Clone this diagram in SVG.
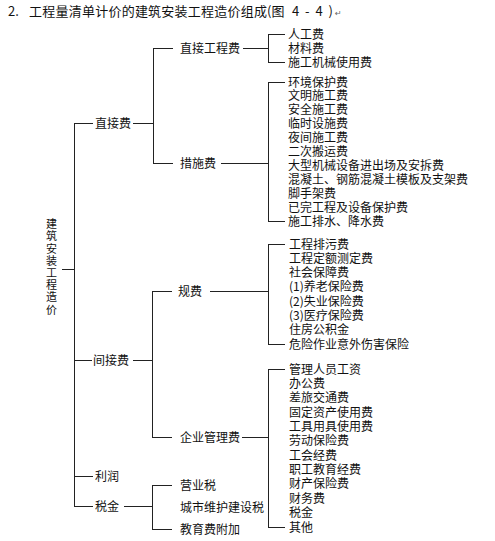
<svg xmlns="http://www.w3.org/2000/svg" width="495" height="541" viewBox="0 0 495 541">
<style>
text{font-family:"Noto Sans CJK SC","Noto Sans",sans-serif;fill:#111;font-size:12px}
.t{font-size:13px}
.r{font-size:11px}
.c path{fill:none;stroke:#222;stroke-width:1;shape-rendering:crispEdges}
</style>
<rect width="495" height="541" fill="#fff"/>
<g id="title">
<text class="t" x="8" y="16">2.</text>
<text class="t" x="29" y="16" textLength="238" lengthAdjust="spacing">工程量清单计价的建筑安装工程造价组成</text>
<text class="t" x="267" y="16">(图</text>
<text class="t" x="292" y="16" textLength="41" lengthAdjust="spacing">4-4)</text>
<text x="335" y="16" style="font-family:'DejaVu Sans',sans-serif;font-size:8px;fill:#666">↵</text>
</g>
<g class="c" id="connectors">
<path d="M62 269.5H74.5"/>
<path d="M93 123.5H74.5V506.5H93"/>
<path d="M74.5 360.5H92"/>
<path d="M74.5 476.5H93"/>
<path d="M133 123.5H153.5"/>
<path d="M173 48.5H153.5V163.5H173"/>
<path d="M243 48.5H268.5"/>
<path d="M285 34.5H268.5V62.5H285"/>
<path d="M221 163.5H268.5"/>
<path d="M285 82.5H268.5V221.5H285"/>
<path d="M133 360.5H152.5"/>
<path d="M172 291.5H152.5V437.5H172"/>
<path d="M210 291.5H268.5"/>
<path d="M285 244.5H268.5V344.5H285"/>
<path d="M242 437.5H268.5"/>
<path d="M285 369.5H268.5V527.5H285"/>
<path d="M124 506.5H152.5"/>
<path d="M172 485.5H152.5V529.5H172"/>
</g>
<g id="root" text-anchor="middle" class="r">
<text class="r" x="51.5" y="228.2">建</text>
<text class="r" x="51.5" y="240.4">筑</text>
<text class="r" x="51.5" y="252.6">安</text>
<text class="r" x="51.5" y="264.8">装</text>
<text class="r" x="51.5" y="277">工</text>
<text class="r" x="51.5" y="289.2">程</text>
<text class="r" x="51.5" y="301.4">造</text>
<text class="r" x="51.5" y="313.6">价</text>
</g>
<g id="zhijiefei"><text x="95" y="127.5">直接费</text></g>
<g id="jianjiefei"><text x="93" y="364.5">间接费</text></g>
<g id="lirun"><text x="95" y="480.5">利润</text></g>
<g id="shuijin"><text x="95" y="510.5">税金</text></g>
<g id="zhijiegongchengfei"><text x="180" y="52.5">直接工程费</text></g>
<g id="cuoshifei"><text x="180" y="167.5">措施费</text></g>
<g id="guifei"><text x="178" y="295.5">规费</text></g>
<g id="qiyeguanlifei"><text x="180" y="441.5">企业管理费</text></g>
<g id="yingyeshui"><text x="180" y="489.5">营业税</text></g>
<g id="chengshiweihu"><text x="180" y="511.5">城市维护建设税</text></g>
<g id="jiaoyufei"><text x="180" y="533.5">教育费附加</text></g>
<g id="zhijiegongcheng-items">
<text x="288" y="38.5">人工费</text>
<text x="288" y="52.5">材料费</text>
<text x="288" y="66.5">施工机械使用费</text>
</g>
<g id="cuoshi-items">
<text x="288" y="86.5">环境保护费</text>
<text x="288" y="100.4">文明施工费</text>
<text x="288" y="114.3">安全施工费</text>
<text x="288" y="128.2">临时设施费</text>
<text x="288" y="142.1">夜间施工费</text>
<text x="288" y="156">二次搬运费</text>
<text x="288" y="169.9">大型机械设备进出场及安拆费</text>
<text x="288" y="183.8">混凝土、钢筋混凝土模板及支架费</text>
<text x="288" y="197.7">脚手架费</text>
<text x="288" y="211.6">已完工程及设备保护费</text>
<text x="288" y="225.5">施工排水、降水费</text>
</g>
<g id="guifei-items">
<text x="289" y="248.5">工程排污费</text>
<text x="289" y="262.8">工程定额测定费</text>
<text x="289" y="277.1">社会保障费</text>
<text x="289" y="291.4">(1)养老保险费</text>
<text x="289" y="305.7">(2)失业保险费</text>
<text x="289" y="320">(3)医疗保险费</text>
<text x="289" y="334.3">住房公积金</text>
<text x="289" y="348.6">危险作业意外伤害保险</text>
</g>
<g id="qiye-items">
<text x="289" y="373.5">管理人员工资</text>
<text x="289" y="387.9">办公费</text>
<text x="289" y="402.2">差旅交通费</text>
<text x="289" y="416.6">固定资产使用费</text>
<text x="289" y="430.9">工具用具使用费</text>
<text x="289" y="445.3">劳动保险费</text>
<text x="289" y="459.7">工会经费</text>
<text x="289" y="474">职工教育经费</text>
<text x="289" y="488.4">财产保险费</text>
<text x="289" y="502.7">财务费</text>
<text x="289" y="517.1">税金</text>
<text x="289" y="531.5">其他</text>
</g>
</svg>
